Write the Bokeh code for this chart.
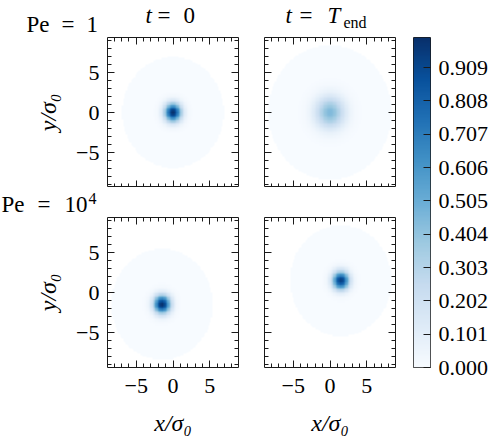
import numpy as np
from bokeh.plotting import figure
from bokeh.layouts import row, column
from bokeh.models import Range1d, LinearAxis, FixedTicker, LinearColorMapper
from bokeh.core.properties import value
from bokeh.palettes import Blues256
from bokeh.embed import file_html
from bokeh.resources import INLINE

# Panels in reading order: (Pe=1, t=0), (Pe=1, t=T_end), (Pe=1e4, t=0), (Pe=1e4, t=T_end)
blob_peak = [1.0, 0.45, 1.0, 0.95]
blob_x = [0.0, 0.0, -1.5, 1.5]
blob_y = [0.0, 0.0, -1.5, 1.5]
blob_sigma = [0.8, 1.4, 0.8, 0.8]
domain_radius = [7.0, 8.5, 7.0, 7.0]

axis_ticks = [-5, 0, 5]
axis_minor = list(range(-9, 10))
cbar_ticks = [0.0, 0.101, 0.202, 0.303, 0.404, 0.505, 0.606, 0.707, 0.808, 0.909]
cbar_labels = ["0.000", "0.101", "0.202", "0.303", "0.404",
               "0.505", "0.606", "0.707", "0.808", "0.909"]

X_LIM = 8.93
Y_LIM = 9.375
FW, FH = 131, 150
SERIF = "Liberation Serif"
TICK_FS = "22px"
TEXT_PX = 23
AXLABEL_FS = "24px"
SUB_PX = 16
INK = "#1a1a1a"

mapper = LinearColorMapper(palette=list(reversed(Blues256)), low=0.0, high=1.0,
                           nan_color="rgba(0,0,0,0)")


def field(i, nx=100, ny=110):
    xs = np.linspace(-X_LIM, X_LIM, nx)
    ys = np.linspace(-Y_LIM, Y_LIM, ny)
    X, Y = np.meshgrid(xs, ys)
    dx, dy = X - blob_x[i], Y - blob_y[i]
    r2 = dx ** 2 + dy ** 2
    z = blob_peak[i] * np.exp(-r2 / (2 * blob_sigma[i] ** 2))
    z[r2 > domain_radius[i] ** 2] = np.nan
    return z


def tick_style(ax):
    ax.axis_line_color = None
    ax.major_tick_in = 7
    ax.major_tick_out = 0
    ax.minor_tick_in = 4
    ax.minor_tick_out = 0
    ax.major_tick_line_color = INK
    ax.minor_tick_line_color = INK


def labelled_axis(p, side, label, standoff, label_standoff):
    ax = LinearAxis(ticker=FixedTicker(ticks=axis_ticks, minor_ticks=axis_minor))
    tick_style(ax)
    ax.major_label_text_font = SERIF
    ax.major_label_text_font_size = TICK_FS
    ax.major_label_text_color = "black"
    ax.major_label_standoff = standoff
    ax.major_label_overrides = {-5: "\u22125", 0: "0", 5: "5"}
    ax.axis_label = label
    ax.axis_label_text_font = SERIF
    ax.axis_label_text_font_size = AXLABEL_FS
    ax.axis_label_text_font_style = "italic"
    ax.axis_label_text_color = "black"
    ax.axis_label_standoff = label_standoff
    p.add_layout(ax, side)


def bare_axis(p, side):
    # tick marks only: one axis for the long marks, one for the short ones
    for marks, length in ((axis_ticks, 7), (axis_minor, 4)):
        ax = LinearAxis(ticker=FixedTicker(ticks=[], minor_ticks=marks))
        tick_style(ax)
        ax.minor_tick_in = length
        ax.major_label_standoff = 0
        ax.axis_label_standoff = 0
        p.add_layout(ax, side)


def panel(i, left, right, bottom):
    p = figure(frame_width=FW, frame_height=FH,
               min_border_left=left, min_border_right=right,
               min_border_top=0, min_border_bottom=bottom,
               x_range=Range1d(-X_LIM, X_LIM), y_range=Range1d(-Y_LIM, Y_LIM),
               x_axis_location=None, y_axis_location=None,
               toolbar_location=None, output_backend="svg")
    p.grid.visible = False
    p.outline_line_color = INK
    p.outline_line_width = 1
    p.background_fill_color = "white"
    p.border_fill_color = "white"
    p.image(image=[field(i)], x=-X_LIM, y=-Y_LIM, dw=2 * X_LIM, dh=2 * Y_LIM,
            color_mapper=mapper)

    col, rw = i % 2, i // 2
    if rw == 1:
        labelled_axis(p, "below", "x/\u03c3\u2080", 11, 14)
    else:
        bare_axis(p, "below")
    if col == 0:
        labelled_axis(p, "left", "y/\u03c3\u2080", 8, 12)
    else:
        bare_axis(p, "left")
    bare_axis(p, "above")
    bare_axis(p, "right")
    return p


def strip(width, height):
    s = figure(frame_width=width, frame_height=height,
               min_border=0, x_range=Range1d(0, width), y_range=Range1d(height, 0),
               x_axis_location=None, y_axis_location=None,
               toolbar_location=None, output_backend="svg")
    s.grid.visible = False
    s.outline_line_color = None
    s.border_fill_color = "white"
    return s


def piece(s, text, x, base, size=TEXT_PX, italic=False):
    # anchor given as the wanted baseline; the glyph is placed by its middle
    s.text(x=[x], y=[base - 0.36 * size], text=[text], text_font=value(SERIF),
           text_font_size=value(f"{size}px"),
           text_font_style="italic" if italic else "normal",
           text_align="left", text_baseline="middle", text_color="black")


p0 = panel(0, 107, 26, 0)
p1 = panel(1, 0, 18, 0)
p2 = panel(2, 107, 26, 73)
p3 = panel(3, 0, 18, 73)

# header: column titles and first row label
head = strip(413, 37)
piece(head, "t", 145, 23, italic=True)
piece(head, "=", 157, 23)
piece(head, "0", 183, 23)
piece(head, "t", 285, 23, italic=True)
piece(head, "=", 299, 23)
piece(head, "T", 327, 23, italic=True)
piece(head, "end", 343, 28, size=SUB_PX)
piece(head, "Pe", 26, 32)
piece(head, "=", 61, 32)
piece(head, "1", 86, 32)

# gap between rows: second row label
mid = strip(413, 30)
piece(mid, "Pe", 1, 25)
piece(mid, "=", 37, 25)
piece(mid, "10", 64, 25)
piece(mid, "4", 88, 17, size=SUB_PX)

# colour bar
cb = figure(frame_width=17, frame_height=330,
            min_border_left=0, min_border_right=70,
            min_border_top=37, min_border_bottom=73,
            x_range=Range1d(0, 1), y_range=Range1d(0, 1),
            x_axis_location=None, y_axis_location=None,
            toolbar_location=None, output_backend="svg")
cb.grid.visible = False
cb.outline_line_color = INK
cb.border_fill_color = "white"
cb.image(image=[np.linspace(0.0, 1.0, 256).reshape(256, 1)], x=0, y=0, dw=1, dh=1,
         color_mapper=mapper)
cax = LinearAxis(ticker=FixedTicker(ticks=cbar_ticks))
cax.major_label_overrides = {t: s for t, s in zip(cbar_ticks, cbar_labels)}
cax.axis_line_color = None
cax.major_tick_in = 7
cax.major_tick_out = 0
cax.major_tick_line_color = INK
cax.major_label_standoff = 8
cax.major_label_text_font = SERIF
cax.major_label_text_font_size = TICK_FS
cax.major_label_text_color = "black"
cb.add_layout(cax, "right")

layout = row(column(head, row(p0, p1), mid, row(p2, p3)), cb)

open("out.html", "w").write(file_html(layout, INLINE))
